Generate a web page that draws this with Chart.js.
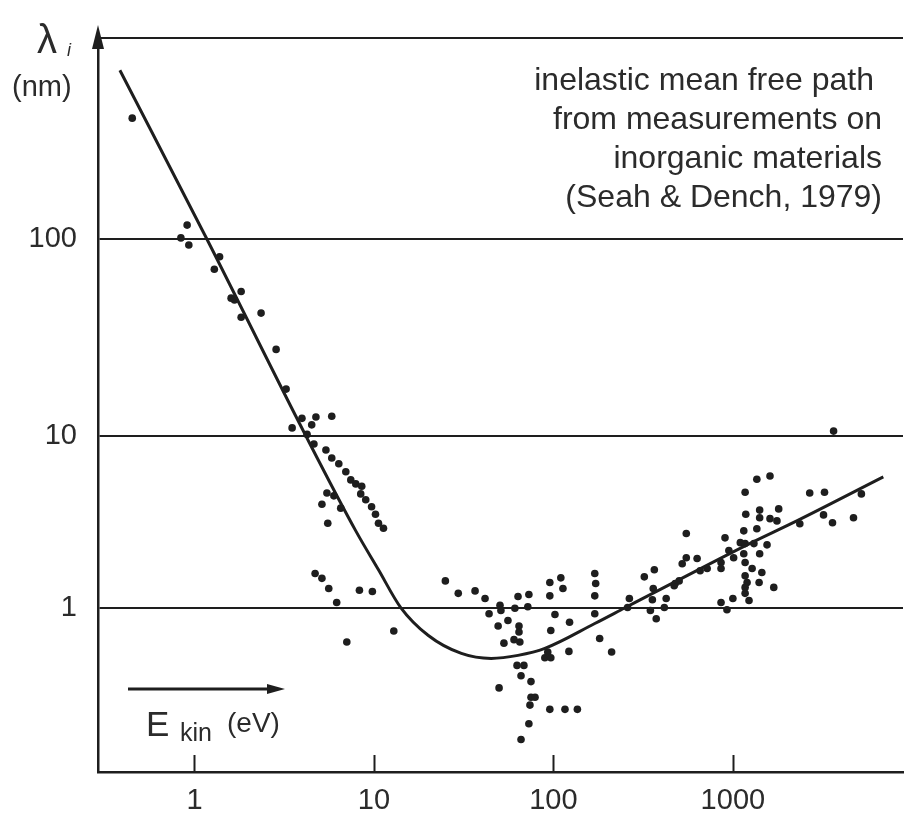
<!DOCTYPE html>
<html>
<head>
<meta charset="utf-8">
<script src="https://cdn.jsdelivr.net/npm/chart.js@4.4.1/dist/chart.umd.min.js"></script>
<style>
  body { margin: 0; background: #fff; }
  #wrap { width: 907px; height: 815px; }
</style>
</head>
<body>
<div id="wrap"><canvas id="imfpChart" width="907" height="815"></canvas></div>
<script>
// universal curve (Seah & Dench), energy in eV, lambda in nm
const curveEnergy = [0.384, 1.17, 4.18, 7.92, 10.6, 14.1, 20.1, 30.7, 45, 63.5, 89.6, 170, 252, 490, 1200, 2270, 6890];
const curveLambda = [693, 100, 10, 2.8, 1.66, 1.0, 0.687, 0.54, 0.505, 0.526, 0.578, 0.807, 1.0, 1.435, 2.32, 3.2, 5.78];

// measured points
const measEnergy = [
  0.45, 0.91, 0.84, 0.93, 1.38, 1.29, 1.82, 1.6, 1.67, 1.82, 2.35, 2.85, 3.24, 3.97, 4.75, 5.82,
  3.5, 4.5, 4.24, 4.63, 5.4, 5.82, 6.37, 6.97, 7.43, 7.92, 8.55, 8.44, 9.0, 9.7, 10.2, 10.6,
  11.3, 5.47, 5.98, 6.53, 5.13, 5.53, 4.7, 5.13, 5.6, 6.2, 7.06, 8.3, 9.8, 12.9,
  25, 29.5, 36.6, 41.6, 43.8, 50.4, 51, 55.8, 49.2, 53, 60.3, 63.5, 61, 64.3, 64.3, 65,
  73, 72, 62.7, 68.5, 66, 75, 49.8, 75, 79, 74, 73, 66, 95.5, 95.5, 110, 113,
  102, 96.7, 89.6, 96.7, 93, 95.5, 116, 136, 123, 122, 170, 172, 170, 170, 181, 211,
  265, 259, 321, 365, 360, 356, 347, 374, 425, 415, 471,
  3640, 1360, 1610, 1170, 2680, 3240, 5200, 1180, 1410, 1410, 1800, 1610, 1760, 2360, 3200, 3590,
  4700, 550, 904, 1150, 1360, 1100, 1170, 1310, 1550, 950, 1010, 1150, 1410, 550, 522, 632,
  657, 719, 859, 859, 1170, 1280, 1450, 1170, 1200, 1400, 1690, 477, 502, 859, 927, 1000,
  1170, 1230, 1170
];
const measLambda = [
  400, 117, 101, 93, 81, 70, 54, 50, 49, 40, 42, 27.5, 17.3, 12.3, 12.5, 12.6,
  11, 11.4, 10.2, 9.0, 8.3, 7.45, 6.9, 6.2, 5.55, 5.26, 5.1, 4.6, 4.25, 3.87, 3.5, 3.1,
  2.9, 4.66, 4.48, 3.8, 4.0, 3.1, 1.58, 1.48, 1.29, 1.07, 0.63, 1.26, 1.24, 0.73,
  1.43, 1.21, 1.25, 1.13, 0.92, 1.03, 0.96, 0.84, 0.78, 0.62, 0.65, 1.16, 0.99, 0.78, 0.72, 0.63,
  1.19, 1.01, 0.46, 0.46, 0.40, 0.37, 0.34, 0.30, 0.30, 0.27, 0.21, 0.17, 1.40, 1.17, 1.49, 1.29,
  0.91, 0.735, 0.51, 0.51, 0.55, 0.255, 0.255, 0.255, 0.82, 0.555, 1.58, 1.38, 1.17, 0.92, 0.66, 0.55,
  1.13, 1.0, 1.51, 1.66, 1.29, 1.11, 0.96, 0.86, 1.13, 1.0, 1.34,
  10.6, 5.6, 5.85, 4.7, 4.66, 4.7, 4.6, 3.5, 3.7, 3.34, 3.76, 3.3, 3.2, 3.08, 3.47, 3.12,
  3.34, 2.7, 2.55, 2.8, 2.88, 2.39, 2.36, 2.36, 2.32, 2.15, 1.95, 2.06, 2.06, 1.95, 1.8, 1.93,
  1.64, 1.69, 1.83, 1.69, 1.83, 1.69, 1.6, 1.53, 1.4, 1.4, 1.31, 1.38, 1.43, 1.07, 0.97, 1.13,
  1.21, 1.1, 1.31
];

const xTickValues = [1, 10, 100, 1000];
const yTickValues = [1, 10, 100, 1000];
const noteLines = ['inelastic mean free path', 'from measurements on', 'inorganic materials', '(Seah & Dench, 1979)'];

const ink = '#1e1e1e';
const textInk = '#2b2b2b';
const font = '"Liberation Sans", Arial, sans-serif';

// the original y axis is not evenly spaced per decade, so the scale maps each decade on its own
class WarpedLogScale extends Chart.LogarithmicScale {
  decimalFor(value) {
    const stops = this.options.stops;
    const lv = Math.log10(value);
    for (let i = 1; i < stops.length; i++) {
      if (lv <= Math.log10(stops[i][0]) || i === stops.length - 1) {
        const la = Math.log10(stops[i - 1][0]);
        const lb = Math.log10(stops[i][0]);
        return stops[i - 1][1] + (lv - la) / (lb - la) * (stops[i][1] - stops[i - 1][1]);
      }
    }
    return 0;
  }
  getPixelForValue(value) {
    if (value === undefined || value === null || value <= 0) value = this.min;
    return this.getPixelForDecimal(this.decimalFor(value));
  }
  getValueForPixel(pixel) {
    const d = this.getDecimalForPixel(pixel);
    const stops = this.options.stops;
    for (let i = 1; i < stops.length; i++) {
      if (d <= stops[i][1] || i === stops.length - 1) {
        const la = Math.log10(stops[i - 1][0]);
        const lb = Math.log10(stops[i][0]);
        const t = (d - stops[i - 1][1]) / (stops[i][1] - stops[i - 1][1]);
        return Math.pow(10, la + t * (lb - la));
      }
    }
    return this.min;
  }
}
WarpedLogScale.id = 'warpedLog';
WarpedLogScale.defaults = Chart.LogarithmicScale.defaults;
Chart.register(WarpedLogScale);

function arrowHead(ctx, x, y, dir, len, half) {
  ctx.beginPath();
  if (dir === 'up') {
    ctx.moveTo(x, y);
    ctx.lineTo(x - half, y + len);
    ctx.lineTo(x + half, y + len);
  } else {
    ctx.moveTo(x, y);
    ctx.lineTo(x - len, y - half);
    ctx.lineTo(x - len, y + half);
  }
  ctx.closePath();
  ctx.fill();
}

// extra drawing: inward x ticks, axis arrow, labels and the note
const decorPlugin = {
  id: 'decor',
  afterDraw(chart) {
    const ctx = chart.ctx;
    const xs = chart.scales.x;
    const area = chart.chartArea;
    ctx.save();
    ctx.strokeStyle = ink;
    ctx.fillStyle = ink;

    ctx.lineWidth = 2;
    xTickValues.forEach(v => {
      const px = Math.round(xs.getPixelForValue(v)) + 0.5;
      ctx.beginPath();
      ctx.moveTo(px, area.bottom);
      ctx.lineTo(px, area.bottom - 17);
      ctx.stroke();
    });

    // y axis arrow
    ctx.lineWidth = 2.5;
    ctx.beginPath();
    ctx.moveTo(area.left, area.top);
    ctx.lineTo(area.left, 45);
    ctx.stroke();
    arrowHead(ctx, area.left, 25, 'up', 24, 6);

    // E_kin arrow
    ctx.lineWidth = 3;
    ctx.beginPath();
    ctx.moveTo(128, 689);
    ctx.lineTo(270, 689);
    ctx.stroke();
    arrowHead(ctx, 285, 689, 'right', 18, 5);

    ctx.fillStyle = textInk;
    ctx.textBaseline = 'alphabetic';
    ctx.textAlign = 'left';
    ctx.font = '35px ' + font;
    ctx.fillText('E', 146, 736);
    ctx.font = '25px ' + font;
    ctx.fillText('kin', 180, 741);
    ctx.font = '28px ' + font;
    ctx.fillText('(eV)', 227, 732);

    // lambda_i (nm)
    ctx.font = '40px ' + font;
    ctx.fillText('λ', 37, 53);
    ctx.font = 'italic 18px ' + font;
    ctx.fillText('i', 67, 56);
    ctx.font = '29px ' + font;
    ctx.fillText('(nm)', 12, 96);

    // note, right aligned
    ctx.font = '32px ' + font;
    ctx.textAlign = 'right';
    noteLines.forEach((line, i) => {
      ctx.fillText(line, i === 0 ? 874 : 882, 90 + i * 39);
    });
    ctx.restore();
  }
};

const curvePoints = curveEnergy.map((e, i) => ({ x: e, y: curveLambda[i] }));
const measPoints = measEnergy.map((e, i) => ({ x: e, y: measLambda[i] }));

const ctx = document.getElementById('imfpChart').getContext('2d');
const imfpChart = new Chart(ctx, {
  type: 'scatter',
  data: {
    datasets: [
      {
        label: 'universal curve',
        data: curvePoints,
        showLine: true,
        borderColor: ink,
        borderWidth: 3,
        pointRadius: 0,
        cubicInterpolationMode: 'monotone',
        fill: false
      },
      {
        label: 'measurements',
        data: measPoints,
        pointRadius: 3.8,
        pointBackgroundColor: ink,
        pointBorderWidth: 0
      }
    ]
  },
  options: {
    responsive: false,
    animation: false,
    layout: { padding: { top: 36, right: 0, bottom: 0, left: 0 } },
    plugins: {
      legend: { display: false },
      tooltip: { enabled: false }
    },
    scales: {
      x: {
        type: 'logarithmic',
        min: 0.29,
        max: 8870,
        afterBuildTicks: scale => { scale.ticks = xTickValues.map(v => ({ value: v })); },
        afterFit: scale => { scale.height = 43; },
        grid: { drawOnChartArea: false, drawTicks: false },
        border: { display: true, color: ink, width: 2.5 },
        ticks: {
          padding: 12,
          color: textInk,
          font: { family: font, size: 29 },
          callback: v => String(v)
        }
      },
      y: {
        type: 'warpedLog',
        min: 0.11,
        max: 1000,
        stops: [[0.11, 0], [1, 0.2242], [10, 0.4579], [100, 0.7269], [1000, 1]],
        afterBuildTicks: scale => { scale.ticks = yTickValues.map(v => ({ value: v })); },
        afterFit: scale => { scale.width = 98; },
        grid: { color: ink, lineWidth: 2, drawTicks: false },
        border: { display: true, color: ink, width: 2.5 },
        ticks: {
          padding: 21,
          color: textInk,
          font: { family: font, size: 29 },
          callback: v => (v === 1000 ? '' : String(v))
        }
      }
    }
  },
  plugins: [decorPlugin]
});
</script>
</body>
</html>
